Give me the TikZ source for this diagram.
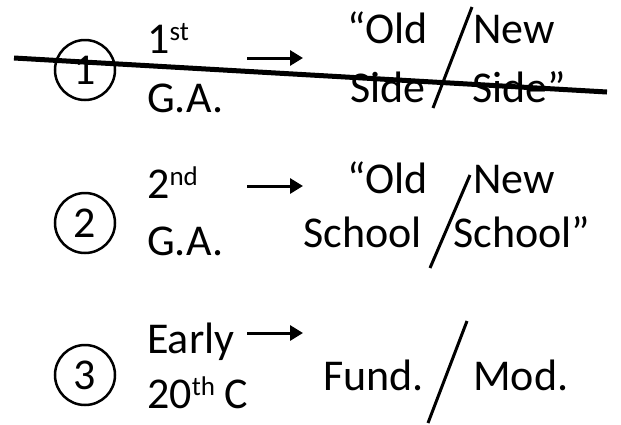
\documentclass[tikz,border=0pt]{standalone}
\usepackage{fontspec}
\setmainfont{Carlito}
\usetikzlibrary{arrows.meta}
\newcommand{\bigText}{\fontsize{44}{48}\selectfont}
\newcommand{\ordinal}[1]{\raisebox{13pt}{\fontsize{27}{30}\selectfont #1}}
\tikzstyle{diagram} = [x = 1pt, y = -1pt]
\tikzstyle{numberCircle} = [draw, circle, line width = 2.5pt, minimum size = 60pt, inner sep = 0pt, font = \bigText]
\tikzstyle{rowText} = [anchor = base west, inner sep = 0pt, font = \bigText]
\tikzstyle{eraArrow} = [line width = 3pt, -{Triangle[length = 13pt, width = 15pt]}]
\tikzstyle{splitLine} = [line width = 3pt]
\tikzstyle{strikeLine} = [line width = 5pt]

\begin{document}
\begin{tikzpicture}[diagram]
        \useasboundingbox (0,0) rectangle (621,424);

        % first general assembly
        \node [numberCircle] (circleOne) at (85,70) {1};
        \node [rowText] (ordOne) at (147,53) {1\ordinal{st}};
        \node [rowText] (gaOne) at (147,112) {G.A.};
        \coordinate (arrowOneStart) at (247,58);
        \coordinate (arrowOneEnd) at (303,58);
        \draw [eraArrow] (arrowOneStart) -- (arrowOneEnd);
        \node [rowText] (oldOne) at (347,43) {“Old};
        \node [rowText] (newOne) at (473,43) {New};
        \node [rowText] (sideOld) at (350,102) {Side};
        \node [rowText] (sideNew) at (472,102) {Side”};
        \coordinate (splitOneTop) at (472,7);
        \coordinate (splitOneBottom) at (433,108);
        \draw [splitLine] (splitOneTop) -- (splitOneBottom);
        \coordinate (strikeStart) at (14,58);
        \coordinate (strikeEnd) at (607,92);
        \draw [strikeLine] (strikeStart) -- (strikeEnd);

        % second general assembly
        \node [numberCircle] (circleTwo) at (85,223) {2};
        \node [rowText] (ordTwo) at (147,198) {2\ordinal{nd}};
        \node [rowText] (gaTwo) at (147,255) {G.A.};
        \coordinate (arrowTwoStart) at (247,186);
        \coordinate (arrowTwoEnd) at (303,186);
        \draw [eraArrow] (arrowTwoStart) -- (arrowTwoEnd);
        \node [rowText] (oldTwo) at (347,193) {“Old};
        \node [rowText] (newTwo) at (473,193) {New};
        \node [rowText] (schoolOld) at (303,247) {School};
        \node [rowText] (schoolNew) at (453,247) {School”};
        \coordinate (splitTwoTop) at (470,175);
        \coordinate (splitTwoBottom) at (430,268);
        \draw [splitLine] (splitTwoTop) -- (splitTwoBottom);

        % early 20th century
        \node [numberCircle] (circleThree) at (85,375) {3};
        \node [rowText] (early) at (147,353) {Early};
        \node [rowText] (century) at (147,408) {20\ordinal{th} C};
        \coordinate (arrowThreeStart) at (247,333);
        \coordinate (arrowThreeEnd) at (303,333);
        \draw [eraArrow] (arrowThreeStart) -- (arrowThreeEnd);
        \node [rowText] (fund) at (323,390) {Fund.};
        \node [rowText] (mod) at (473,390) {Mod.};
        \coordinate (splitThreeTop) at (467,321);
        \coordinate (splitThreeBottom) at (428,423);
        \draw [splitLine] (splitThreeTop) -- (splitThreeBottom);
      \end{tikzpicture}
\end{document}
